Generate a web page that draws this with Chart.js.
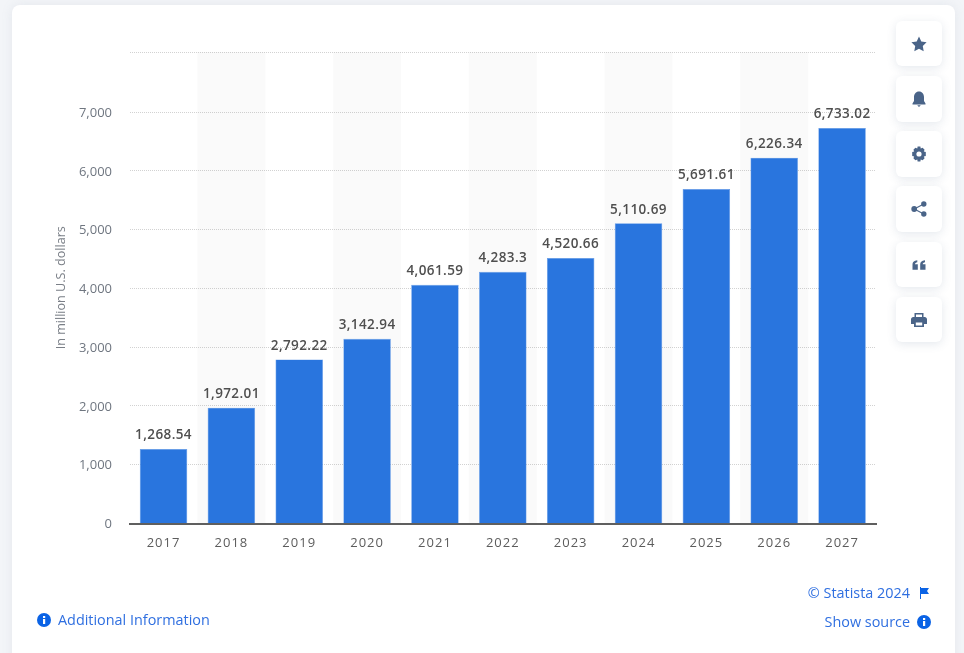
<!DOCTYPE html>
<html>
<head>
<meta charset="utf-8">
<title>Chart</title>
<script src="https://cdn.jsdelivr.net/npm/chart.js@4"></script>
<style>
html, body { margin: 0; padding: 0; width: 964px; height: 653px; overflow: hidden; background: #f3f5f8; font-family: "Open Sans", sans-serif; }
#card { position: absolute; left: 12px; top: 5px; width: 943px; height: 700px; background: #fff; border-radius: 8px; box-shadow: 0 0 12px rgba(120,135,160,.12); }
.side { position: absolute; left: 896px; width: 46px; background: #fff; border-radius: 6px; box-shadow: 0 2px 10px rgba(90,110,140,.16); display: flex; align-items: center; justify-content: center; }
.side svg { width: 16px; height: 16px; fill: #4a6488; }
.link { position: absolute; color: #2f6fe0; font-size: 14.4px; line-height: 20px; white-space: nowrap; }
.ic { position: absolute; width: 14px; height: 14px; }
</style>
</head>
<body>
<div id="card"></div>
<canvas id="salesChart" width="964" height="653" style="position:absolute;left:0;top:0;width:964px;height:653px"></canvas>

<div class="side" style="top:21px;height:45px"><svg viewBox="0 0 16 16"><path d="M8 .6l2.300 4.800 5.300.8-3.800 3.700.9 5.300L8 12.700l-4.700 2.500.9-5.300L.4 6.200l5.300-.8z"/></svg></div>
<div class="side" style="top:76px;height:46px"><svg viewBox="0 0 16 16"><path d="M8 .5C4.800.5 3 3 3 6v4l-1.500 2.500v1h13v-1L13 10V6c0-3-1.800-5.500-5-5.500zM6.200 14.300h3.600L8 16z"/></svg></div>
<div class="side" style="top:131px;height:46px"><svg viewBox="0 0 16 16"><path d="M6.600.5h2.800l.3 2 1.900-.8 2 2-.8 1.900 2 .3v4.200l-2 .3.800 1.900-2 2-1.900-.8-.3 2H6.600l-.3-2-1.900.8-2-2 .8-1.900-2-.3V5.900l2-.3-.8-1.900 2-2 1.900.8z"/><circle cx="8" cy="8" r="2.600" fill="#fff"/></svg></div>
<div class="side" style="top:186px;height:46px"><svg viewBox="0 0 16 16"><circle cx="12.800" cy="3" r="2.700"/><circle cx="3.200" cy="8" r="2.900"/><circle cx="12.800" cy="13" r="2.700"/><path d="M3 7.500l9.500-5 .5 1-9.500 5zM3.500 7.500l9.500 5-.5 1-9.500-5z"/></svg></div>
<div class="side" style="top:242px;height:45px"><svg viewBox="0 0 16 16"><path d="M1.500 8c0-3 1.300-4.300 4.800-4.800v2C4.800 5.500 4.100 6.200 4 7.200h2.800v5.600H1.500zM9.200 8c0-3 1.300-4.300 4.800-4.800v2c-1.500.3-2.200 1-2.300 2h2.800v5.600H9.200z"/></svg></div>
<div class="side" style="top:297px;height:45px"><svg viewBox="0 0 16 16"><path fill-rule="evenodd" d="M3.500 1h9v4h1.200C15 5 16 6 16 7.300V12h-3v3H3v-3H0V7.300C0 6 1 5 2.300 5h1.200zM5 2.500V5h6V2.500zM4.800 10.500v3h6.400v-3z"/></svg></div>

<svg class="ic" style="left:37px;top:613px" viewBox="0 0 14 14"><circle cx="7" cy="7" r="7" fill="#0b63e5"/><rect x="6" y="6" width="2.200" height="5" fill="#fff"/><rect x="6" y="3" width="2.200" height="2" fill="#fff"/></svg>
<div class="link" style="left:58px;top:610px">Additional Information</div>
<div class="link" style="right:54px;top:583px">© Statista 2024</div>
<svg class="ic" style="left:918px;top:587px;width:12px;height:12px" viewBox="0 0 12 12"><path d="M2 0h1v1h8l-2 3 2 3H3v5H2z" fill="#0b63e5"/></svg>
<div class="link" style="right:54px;top:612px">Show source</div>
<svg class="ic" style="left:917px;top:615px" viewBox="0 0 14 14"><circle cx="7" cy="7" r="7" fill="#0b63e5"/><rect x="6" y="6" width="2.200" height="5" fill="#fff"/><rect x="6" y="3" width="2.200" height="2" fill="#fff"/></svg>

<script>
const years = ['2017', '2018', '2019', '2020', '2021', '2022', '2023', '2024', '2025', '2026', '2027'];
const revenue = [1268.54, 1972.01, 2792.22, 3142.94, 4061.59, 4283.3, 4520.66, 5110.69, 5691.61, 6226.34, 6733.02];
const valueLabels = ['1,268.54', '1,972.01', '2,792.22', '3,142.94', '4,061.59', '4,283.3', '4,520.66', '5,110.69', '5,691.61', '6,226.34', '6,733.02'];
const yTicks = [0, 1000, 2000, 3000, 4000, 5000, 6000, 7000];
const yTop = 8025;

// grey stripes behind every second year
const stripes = {
    id: 'stripes',
    beforeDatasetsDraw(chart) {
        const { ctx, chartArea, scales } = chart;
        const step = scales.x.getPixelForValue(1) - scales.x.getPixelForValue(0);
        ctx.save();
        ctx.fillStyle = 'rgba(120,120,120,0.04)';
        years.forEach((year, i) => {
            if (i % 2 === 1) {
                ctx.fillRect(scales.x.getPixelForValue(i) - step / 2, chartArea.top, step, chartArea.bottom - chartArea.top);
            }
        });
        ctx.restore();
    }
};

const valueTags = {
    id: 'valueTags',
    afterDatasetsDraw(chart) {
        const ctx = chart.ctx;
        ctx.save();
        ctx.font = '600 13.5px "Open Sans"';
        ctx.letterSpacing = '0.4px';
        ctx.fillStyle = '#4f4f4f';
        ctx.textAlign = 'center';
        ctx.textBaseline = 'middle';
        chart.getDatasetMeta(0).data.forEach((bar, i) => {
            ctx.fillText(valueLabels[i], bar.x, bar.y - 13.5);
        });
        ctx.restore();
    }
};

const ctx = document.getElementById('salesChart').getContext('2d');
new Chart(ctx, {
    type: 'bar',
    data: {
        labels: years,
        datasets: [{
            data: revenue,
            backgroundColor: '#2975de',
            borderColor: '#5f97e6',
            borderWidth: 0.6,
            barPercentage: 0.7,
            categoryPercentage: 1
        }]
    },
    plugins: [stripes, valueTags],
    options: {
        responsive: false,
        animation: false,
        layout: { padding: { top: 52, right: 88, bottom: 0, left: 0 } },
        plugins: { legend: { display: false }, tooltip: { enabled: false } },
        scales: {
            x: {
                afterFit(scale) {
                    scale.height = 129.5;
                    // the year labels are spaced out a bit
                    if (!scale.spaced) {
                        const drawLabels = scale.drawLabels;
                        scale.drawLabels = function (area) {
                            scale.ctx.letterSpacing = '1px';
                            drawLabels.call(scale, area);
                            scale.ctx.letterSpacing = '0px';
                        };
                        scale.spaced = true;
                    }
                },
                grid: { display: false },
                border: { display: true, color: '#5f5f5f', width: 2 },
                ticks: { color: '#5c5c5c', font: { family: '"Open Sans"', size: 13 }, padding: 4, maxRotation: 0 }
            },
            y: {
                min: 0,
                max: yTop,
                afterFit(scale) { scale.width = 129.6; },
                afterBuildTicks(scale) {
                    scale.ticks = yTicks.concat(yTop).map(value => ({ value }));
                },
                grid: {
                    drawTicks: false,
                    color: c => (c.tick && c.tick.value === 0 ? 'transparent' : '#d2d2d2'),
                    lineWidth: 1
                },
                border: { display: false, dash: [1, 1] },
                title: {
                    display: true,
                    text: 'In million U.S. dollars',
                    color: '#7a7f87',
                    font: { family: '"Open Sans"', size: 12.6 },
                    padding: { top: 54, bottom: 0 }
                },
                ticks: {
                    color: '#6f7680',
                    font: { family: '"Open Sans"', size: 13 },
                    padding: 17.6,
                    labelOffset: 1,
                    callback: value => (value === yTop ? '' : value.toLocaleString('en-US'))
                }
            }
        }
    }
});
</script>
</body>
</html>
